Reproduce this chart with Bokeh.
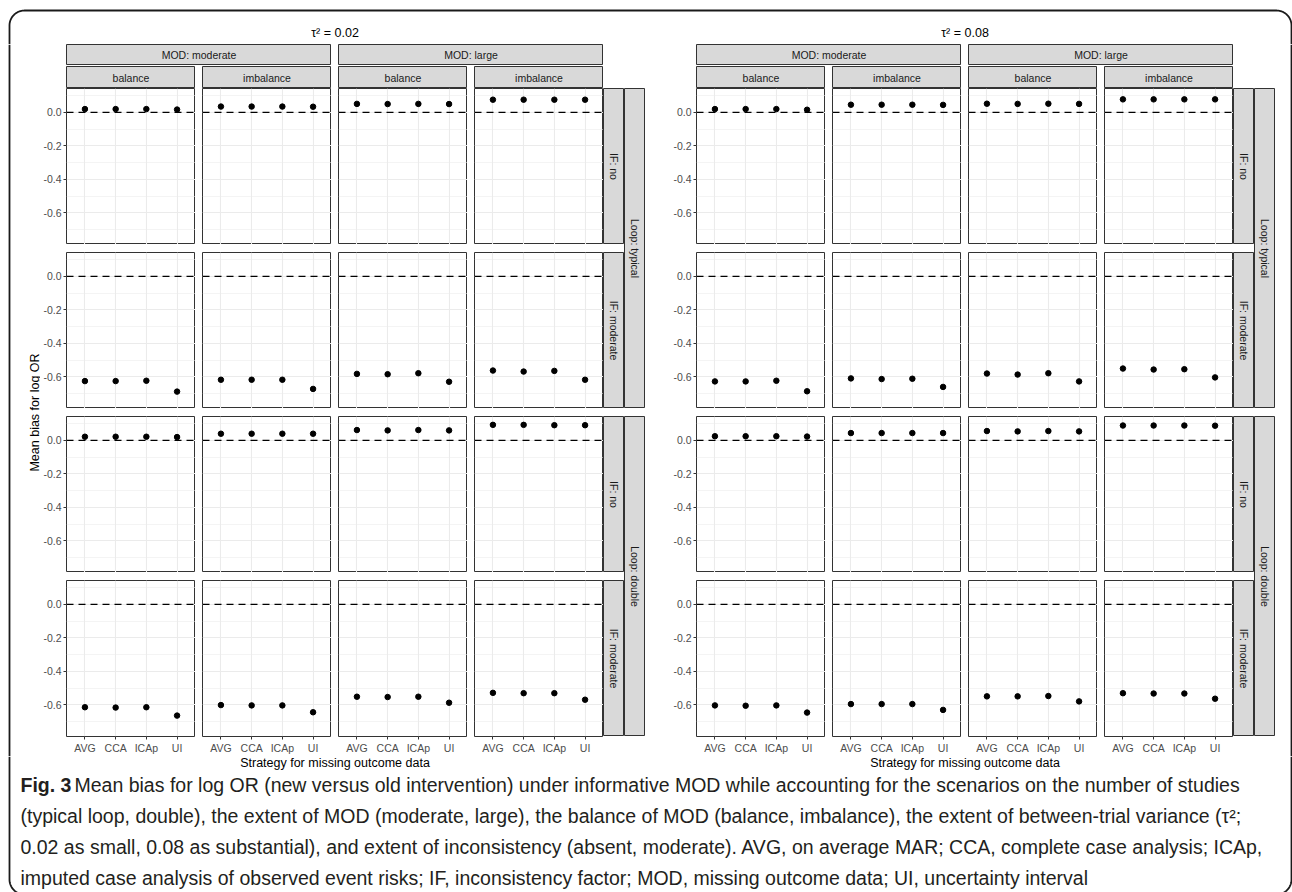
import numpy as np
from bokeh.plotting import figure
from bokeh.layouts import row, column
from bokeh.models import Range1d, FixedTicker, Span, Spacer, NumeralTickFormatter
from bokeh.core.properties import value
from bokeh.embed import file_html
from bokeh.resources import INLINE

# ---------------- data ----------------
strategies = ["AVG", "CCA", "ICAp", "UI"]
tau_titles = ["τ² = 0.02", "τ² = 0.08"]
mod_labels = ["MOD: moderate", "MOD: large"]
balance_labels = ["balance", "imbalance"]
loop_labels = ["Loop: typical", "Loop: double"]
if_labels = ["IF: no", "IF: moderate"]
x_title = "Strategy for missing outcome data"
y_title = "Mean bias for log OR"
y_major = [-0.6, -0.4, -0.2, 0.0]
y_minor = [-0.7, -0.5, -0.3, -0.1, 0.1]
y_limits = (-0.79, 0.143)

# panels in order: (moderate, balance), (moderate, imbalance), (large, balance), (large, imbalance)
# values in order of strategies: AVG, CCA, ICAp, UI
tau002_typical_ifno = [[0.020, 0.020, 0.020, 0.017],
                       [0.035, 0.035, 0.035, 0.034],
                       [0.051, 0.050, 0.051, 0.050],
                       [0.076, 0.076, 0.076, 0.076]]
tau002_typical_ifmod = [[-0.626, -0.626, -0.624, -0.689],
                        [-0.618, -0.618, -0.618, -0.673],
                        [-0.583, -0.585, -0.579, -0.630],
                        [-0.563, -0.569, -0.565, -0.618]]
tau002_double_ifno = [[0.022, 0.022, 0.022, 0.020],
                      [0.040, 0.040, 0.040, 0.040],
                      [0.062, 0.060, 0.062, 0.060],
                      [0.093, 0.093, 0.091, 0.091]]
tau002_double_ifmod = [[-0.615, -0.617, -0.615, -0.665],
                       [-0.602, -0.604, -0.604, -0.645],
                       [-0.552, -0.554, -0.552, -0.588],
                       [-0.529, -0.531, -0.531, -0.570]]
tau008_typical_ifno = [[0.020, 0.020, 0.020, 0.016],
                       [0.046, 0.046, 0.046, 0.045],
                       [0.052, 0.051, 0.052, 0.051],
                       [0.078, 0.078, 0.078, 0.078]]
tau008_typical_ifmod = [[-0.628, -0.628, -0.624, -0.687],
                        [-0.610, -0.614, -0.612, -0.661],
                        [-0.581, -0.587, -0.579, -0.628],
                        [-0.551, -0.557, -0.555, -0.604]]
tau008_double_ifno = [[0.025, 0.025, 0.025, 0.023],
                      [0.044, 0.044, 0.044, 0.044],
                      [0.056, 0.054, 0.056, 0.054],
                      [0.089, 0.089, 0.089, 0.088]]
tau008_double_ifmod = [[-0.604, -0.606, -0.604, -0.647],
                       [-0.596, -0.596, -0.596, -0.631],
                       [-0.550, -0.550, -0.548, -0.580],
                       [-0.531, -0.533, -0.533, -0.564]]

caption_bold = "Fig. 3"
caption_lines = [
    "Mean bias for log OR (new versus old intervention) under informative MOD while accounting for the scenarios on the number of studies",
    "(typical loop, double), the extent of MOD (moderate, large), the balance of MOD (balance, imbalance), the extent of between-trial variance (τ²;",
    "0.02 as small, 0.08 as substantial), and extent of inconsistency (absent, moderate). AVG, on average MAR; CCA, complete case analysis; ICAp,",
    "imputed case analysis of observed event risks; IF, inconsistency factor; MOD, missing outcome data; UI, uncertainty interval",
]

# ---------------- layout constants ----------------
FONT = "Liberation Sans"
CAP_FONT = "Liberation Sans"
CAP_SIZE = "19.5px"
PW, PH = 129, 156          # panel frame size
GX, GY = 7, 8              # gaps between panels
ST = 21                    # strip thickness
XAX = 20                   # x axis area under last row
W, H = 1292, 892
TOP_H = 44
MID_H = 21 + 1 + 22 + 4 * PH + 3 * GY + XAX
BOT_H = H - TOP_H - MID_H
EDGE_L = 40
BORDER = dict(left=9, top=10, right=1291, bottom=894, r=15)
xpos = list(range(1, len(strategies) + 1))


def base(w, h, **kw):
    p = figure(width=w, height=h, toolbar_location=None, output_backend="svg",
               min_border=0, **kw)
    return p


def canvas(w, h):
    p = base(w, h, x_range=Range1d(0, w), y_range=Range1d(h, 0),
             x_axis_location=None, y_axis_location=None)
    p.grid.visible = False
    p.outline_line_color = None
    return p


def strip(label, w, h, vertical=False):
    p = base(w, h, x_range=Range1d(0, 1), y_range=Range1d(0, 1),
             x_axis_location=None, y_axis_location=None)
    p.grid.visible = False
    p.background_fill_color = "#d9d9d9"
    p.border_fill_color = "#d9d9d9"
    p.outline_line_color = "#333333"
    p.outline_line_width = 1
    p.text(x=[0.5], y=[0.5], text=[label], angle=(-np.pi / 2 if vertical else 0),
           text_align="center", text_baseline="middle", text_font=value(FONT),
           text_font_size="10.5px", text_color="#1a1a1a")
    return p


def panel(vals, lb, bottom):
    h = PH + (XAX if bottom else 0)
    p = base(PW + lb, h, x_range=Range1d(0.4, len(strategies) + 0.6),
             y_range=Range1d(*y_limits),
             x_axis_location=("below" if bottom else None),
             y_axis_location=("left" if lb else None))
    p.min_border_left = lb
    p.min_border_bottom = XAX if bottom else 0
    p.background_fill_color = "white"
    p.border_fill_color = "white"
    p.outline_line_color = "#333333"
    p.outline_line_width = 1
    p.xgrid.ticker = FixedTicker(ticks=xpos)
    p.ygrid.ticker = FixedTicker(ticks=y_major, minor_ticks=y_minor)
    p.xgrid.grid_line_color = "#ebebeb"
    p.xgrid.grid_line_width = 1.1
    p.ygrid.grid_line_color = "#ebebeb"
    p.ygrid.grid_line_width = 1.1
    p.ygrid.minor_grid_line_color = "#ebebeb"
    p.ygrid.minor_grid_line_width = 0.55
    p.add_layout(Span(location=0, dimension="width", line_color="black",
                      line_width=1.2, line_dash="7 5"))
    p.scatter(xpos, vals, size=5.5, color="black")
    for ax in p.axis:
        ax.axis_line_color = None
        ax.major_tick_line_color = "#333333"
        ax.major_tick_out = 3
        ax.major_tick_in = 0
        ax.minor_tick_line_color = None
        ax.major_label_standoff = 2
        ax.major_label_text_font = FONT
        ax.major_label_text_font_size = "10.5px"
        ax.major_label_text_color = "#4d4d4d"
    if lb:
        p.yaxis.ticker = FixedTicker(ticks=y_major)
        p.yaxis.formatter = NumeralTickFormatter(format="0.0")
    if bottom:
        p.xaxis.ticker = FixedTicker(ticks=xpos)
        p.xaxis.major_label_overrides = dict(zip(xpos, strategies))
    return p


def group(rows_vals, lb):
    gw = lb + 4 * PW + 3 * GX + 2 * ST
    top = row(Spacer(width=lb, height=21),
              strip(mod_labels[0], 2 * PW + GX, 21), Spacer(width=GX, height=21),
              strip(mod_labels[1], 2 * PW + GX, 21), Spacer(width=2 * ST, height=21))
    subs = [Spacer(width=lb, height=22)]
    for c in range(4):
        subs.append(strip(balance_labels[c % 2], PW, 22))
        subs.append(Spacer(width=(GX if c < 3 else 2 * ST), height=22))
    sub = row(*subs)
    prow = []
    for r in range(4):
        bottom = r == 3
        hh = PH + (XAX if bottom else 0)
        items = []
        for c in range(4):
            items.append(panel(rows_vals[r][c], lb if c == 0 else 0, bottom))
            if c < 3:
                items.append(Spacer(width=GX, height=hh))
        ifs = strip(if_labels[r % 2], ST, PH, vertical=True)
        if bottom:
            ifs = column(ifs, Spacer(width=ST, height=XAX))
        items.append(ifs)
        prow.append(row(*items))
        if r < 3:
            prow.append(Spacer(width=gw - ST, height=GY))
    loop_col = column(strip(loop_labels[0], ST, 2 * PH + GY, vertical=True),
                      Spacer(width=ST, height=GY),
                      strip(loop_labels[1], ST, 2 * PH + GY, vertical=True),
                      Spacer(width=ST, height=XAX))
    block = row(column(*prow), loop_col)
    return column(top, Spacer(width=gw, height=1), sub, block), gw


def arc_pts(cx, cy, a0, a1):
    t = np.linspace(a0, a1, 24)
    r = BORDER["r"]
    return list(cx + r * np.cos(t)), list(cy + r * np.sin(t))


BCOL, BW = "#1a1a1a", 1.8
L, T, R, B, RR = BORDER["left"], BORDER["top"], BORDER["right"], BORDER["bottom"], BORDER["r"]

# top canvas: titles + top border
top_fig = canvas(W, TOP_H)
ax1, ay1 = arc_pts(L + RR, T + RR, np.pi, 1.5 * np.pi)
ax2, ay2 = arc_pts(R - RR, T + RR, 1.5 * np.pi, 2 * np.pi)
top_fig.line([L] + ax1 + ax2 + [R], [TOP_H] + ay1 + ay2 + [TOP_H],
             line_color=BCOL, line_width=BW)

left_group, lgw = group([tau002_typical_ifno, tau002_typical_ifmod,
                         tau002_double_ifno, tau002_double_ifmod], 26)
right_group, rgw = group([tau008_typical_ifno, tau008_typical_ifmod,
                          tau008_double_ifno, tau008_double_ifmod], 51)
EDGE_R = W - EDGE_L - lgw - rgw

left_center = EDGE_L + 26 + (4 * PW + 3 * GX) / 2
right_center = EDGE_L + lgw + 51 + (4 * PW + 3 * GX) / 2
top_fig.text(x=[left_center, right_center], y=[32, 32], text=tau_titles,
             text_align="center", text_baseline="middle", text_font=value(FONT),
             text_font_size="12.5px", text_color="black")

# left edge: border + y title
edge_l = canvas(EDGE_L, MID_H)
edge_l.line([L, L], [0, MID_H], line_color=BCOL, line_width=BW)
edge_l.text(x=[34], y=[44 + (4 * PH + 3 * GY) / 2], text=[y_title], angle=np.pi / 2,
            text_align="center", text_baseline="middle", text_font=value(FONT),
            text_font_size="12.5px", text_color="black")

edge_r = canvas(EDGE_R, MID_H)
edge_r.line([R - (W - EDGE_R), R - (W - EDGE_R)], [0, MID_H], line_color=BCOL, line_width=BW)

# bottom canvas: x titles + caption + bottom border
bot = canvas(W, BOT_H)
y0 = TOP_H + MID_H
bx1, by1 = arc_pts(R - RR, B - RR - y0, 0, 0.5 * np.pi)
bx2, by2 = arc_pts(L + RR, B - RR - y0, 0.5 * np.pi, np.pi)
bot.line([R] + bx1 + bx2 + [L], [0] + by1 + by2 + [0], line_color=BCOL, line_width=BW)
bot.text(x=[left_center, right_center], y=[6, 6], text=[x_title, x_title],
         text_align="center", text_baseline="middle", text_font=value(FONT),
         text_font_size="12.5px", text_color="black")
cap_y = [784 - y0, 815 - y0, 846 - y0, 877 - y0]
bot.text(x=[20], y=[cap_y[0]], text=[caption_bold], text_align="left",
         text_baseline="middle", text_font=value(CAP_FONT), text_font_style="bold",
         text_font_size=CAP_SIZE, text_color="#231f20")
bot.text(x=[74, 20, 20, 20], y=cap_y, text=caption_lines, text_align="left",
         text_baseline="middle", text_font=value(CAP_FONT),
         text_font_size=CAP_SIZE, text_color="#231f20")

page = column(top_fig, row(edge_l, left_group, right_group, edge_r), bot)

open("out.html", "w").write(file_html(page, INLINE, title="Fig. 3"))
